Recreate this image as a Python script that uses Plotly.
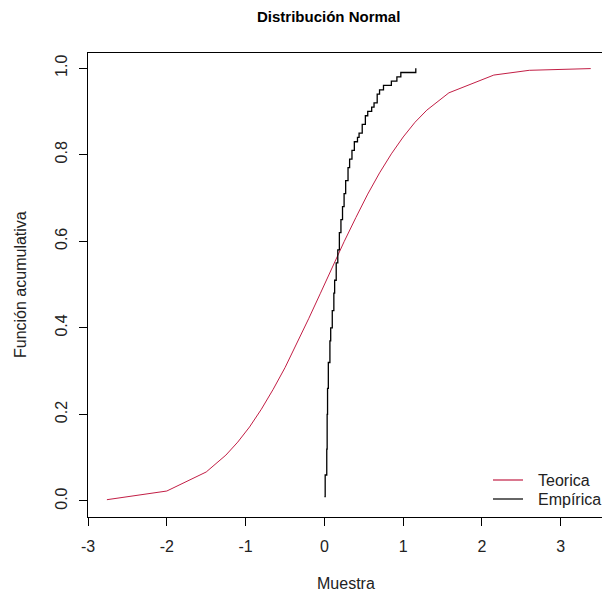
import plotly.graph_objects as go

# Theoretical CDF
teo_x = [-2.76, -2.0, -1.5, -1.25, -1.1, -0.95, -0.8, -0.65, -0.5, -0.35, -0.2, -0.05, 0.1, 0.25,
         0.4, 0.55, 0.7, 0.85, 1.0, 1.15, 1.3, 1.58, 2.15, 2.6, 3.38]
teo_y = [0.003, 0.023, 0.067, 0.106, 0.136, 0.171, 0.212, 0.258, 0.308, 0.363, 0.421, 0.48, 0.54,
         0.599, 0.655, 0.709, 0.758, 0.802, 0.841, 0.875, 0.903, 0.943, 0.984, 0.995, 0.999]

emp_x = [0.00, 0.01, 0.03, 0.035, 0.04, 0.05, 0.07, 0.08, 0.10, 0.12, 0.13, 0.15, 0.17, 0.19, 0.21,
         0.23, 0.25, 0.27, 0.30, 0.32, 0.35, 0.38, 0.42, 0.44, 0.48, 0.52, 0.55, 0.60, 0.63, 0.67,
         0.70, 0.75, 0.85, 0.92, 0.97, 1.16]
emp_y = [0.01, 0.06, 0.12, 0.20, 0.26, 0.32, 0.37, 0.40, 0.44, 0.48, 0.51, 0.55, 0.58, 0.62, 0.65,
         0.68, 0.71, 0.74, 0.77, 0.79, 0.81, 0.83, 0.84, 0.85, 0.87, 0.89, 0.90, 0.91, 0.92, 0.94,
         0.95, 0.96, 0.97, 0.98, 0.99, 1.00]

series_names = ["Teorica", "Empírica"]
series_colors = ["#C21E45", "#000000"]

x_ticks = [-3, -2, -1, 0, 1, 2, 3]
x_tick_text = ["-3", "-2", "-1", "0", "1", "2", "3"]
y_ticks = [0.0, 0.2, 0.4, 0.6, 0.8, 1.0]
y_tick_text = ["0.0", "0.2", "0.4", "0.6", "0.8", "1.0"]

FONT = "Liberation Sans, Arial, sans-serif"
TXT = "#222222"

L, R, T, B = 88, 0, 53, 78
W, H = 602, 595
plot_h = H - T - B
plot_w = W - L - R


def px_x(p):
    return (p - L) / plot_w


def px_y(p):
    return (H - B - p) / plot_h


fig = go.Figure()
fig.add_trace(go.Scatter(x=teo_x, y=teo_y, mode="lines", name=series_names[0],
                         line=dict(color=series_colors[0], width=1), showlegend=False))
fig.add_trace(go.Scatter(x=emp_x, y=emp_y, mode="lines", name=series_names[1],
                         line=dict(color=series_colors[1], width=1.3, shape="hv"),
                         showlegend=False))

# legend drawn like R's legend(bty="n")
legend_rows = [480, 499]
shapes = []
annotations = []
for name, color, row in zip(series_names, series_colors, legend_rows):
    shapes.append(dict(type="line", xref="paper", yref="paper", x0=px_x(493), x1=px_x(523),
                       y0=px_y(row), y1=px_y(row), line=dict(color=color, width=1.2)))
    annotations.append(dict(text=name, x=px_x(536), y=px_y(row), xref="paper", yref="paper",
                            xanchor="left", yanchor="middle", showarrow=False,
                            font=dict(size=16, color=TXT)))

annotations += [
    dict(text="<b>Distribución Normal</b>", x=0.467, y=px_y(16),
         xref="paper", yref="paper", yanchor="middle",
         showarrow=False, font=dict(size=15, color="#000000")),
    dict(text="Muestra", x=px_x(346), y=px_y(583), xref="paper",
         yref="paper", yanchor="middle", showarrow=False, font=dict(size=16, color=TXT)),
    dict(text="Función acumulativa", x=px_x(20), y=0.5, xref="paper", yref="paper",
         xanchor="center", showarrow=False, textangle=-90, font=dict(size=16, color=TXT)),
]

fig.update_layout(
    width=W, height=H,
    margin=dict(l=L, r=R, t=T, b=B),
    paper_bgcolor="white", plot_bgcolor="white",
    font=dict(family=FONT, size=16, color=TXT),
    showlegend=False,
    shapes=shapes,
    annotations=annotations,
)

fig.update_xaxes(range=[-3.0, 3.523], tickvals=x_ticks, ticktext=x_tick_text, ticks="outside",
                 ticklen=8, tickwidth=1, tickcolor="#000", showline=True, linecolor="#000",
                 linewidth=1, mirror=True, showgrid=False, zeroline=False, ticklabelstandoff=7,
                 tickfont=dict(size=16, color=TXT))
fig.update_yaxes(range=[-0.037, 1.035], tickvals=y_ticks, ticktext=y_tick_text, ticks="outside",
                 ticklen=8, tickwidth=1, tickcolor="#000", showline=True, linecolor="#000",
                 linewidth=1, mirror=False, showgrid=False, zeroline=False, tickangle=-90,
                 ticklabelstandoff=6, tickfont=dict(size=16, color=TXT))

fig.write_html("out.html")
